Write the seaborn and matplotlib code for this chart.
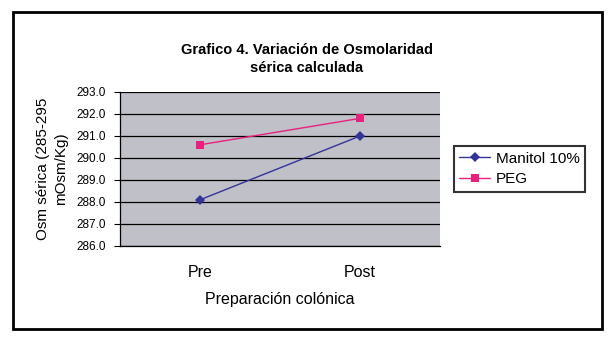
import matplotlib
matplotlib.use("Agg")
import matplotlib.pyplot as plt
import seaborn as sns
import pandas as pd
from matplotlib.patches import Rectangle
from matplotlib.lines import Line2D

categories = ["Pre", "Post"]
manitol = [288.1, 291.0]
peg = [290.6, 291.8]
series_names = ["Manitol 10%", "PEG"]
yticks = [286.0, 287.0, 288.0, 289.0, 290.0, 291.0, 292.0, 293.0]

sns.set_style("white")
plt.rcParams["font.family"] = ["Liberation Sans", "DejaVu Sans"]
plt.rcParams["text.color"] = "black"
plt.rcParams["axes.labelcolor"] = "black"
plt.rcParams["xtick.color"] = "black"
plt.rcParams["ytick.color"] = "black"

df = pd.DataFrame({
    "Momento": categories * 2,
    "Osm": manitol + peg,
    "Serie": [series_names[0]] * 2 + [series_names[1]] * 2,
})

fig = plt.figure(figsize=(6.09, 3.40), dpi=100)
ax = fig.add_axes([120 / 609, 1 - 246 / 340, 320 / 609, 154 / 340])
ax.set_facecolor("#C0C0C8")

colors = {"Manitol 10%": "#333399", "PEG": "#E8217F"}
markers = {"Manitol 10%": "D", "PEG": "s"}
sns.lineplot(data=df, x="Momento", y="Osm", hue="Serie", style="Serie",
             palette=colors, markers=markers, dashes=False, markersize=5.5,
             linewidth=1.0, markeredgewidth=0, ax=ax, legend=False, zorder=3)

ax.set_xlim(-0.5, 1.5)
ax.set_ylim(286.0, 293.0)
ax.set_yticks(yticks)
ax.set_yticklabels([f"{v:.1f}" for v in yticks], fontsize=8.5)
ax.yaxis.grid(True, color="black", linewidth=0.9)
ax.set_axisbelow(True)
ax.set_xticks([0, 1])
ax.set_xticklabels(categories, fontsize=11.5)
ax.set_xticks([-0.5, 0.5, 1.5], minor=True)
ax.tick_params(axis="x", which="major", length=0, pad=14)
ax.tick_params(axis="x", which="minor", length=4, width=0.8, color="black", direction="out")
ax.tick_params(axis="y", which="major", length=4, width=0.8, color="black", direction="out", left=True, pad=6)
for s in ["top", "right"]:
    ax.spines[s].set_visible(False)
for s in ["left", "bottom"]:
    ax.spines[s].set_color("black")
    ax.spines[s].set_linewidth(0.9)

ax.set_xlabel("Preparación colónica", fontsize=11.5, labelpad=8)
ax.set_ylabel("Osm sérica (285-295\nmOsm/Kg)", fontsize=11, labelpad=6, linespacing=1.35)

fig.text(307 / 609, 1 - 59 / 340, "Grafico 4. Variación de Osmolaridad\nsérica calculada",
         ha="center", va="center", fontsize=10.5, fontweight="bold", linespacing=1.45)

handles = [Line2D([0], [0], color=colors[n], marker=markers[n], markersize=5.5,
                  markeredgewidth=0, linewidth=1.0) for n in series_names]
leg = fig.legend(handles, series_names, loc="center",
                 bbox_to_anchor=(519.5 / 609, 1 - 169 / 340), fontsize=11,
                 frameon=True, fancybox=False, edgecolor="black", borderpad=0.35,
                 handlelength=2.0, handletextpad=0.4, labelspacing=0.45, borderaxespad=0)
leg.get_frame().set_linewidth(1.5)

fig.patches.append(Rectangle((13 / 609, 1 - 329 / 340), 589 / 609, 317 / 340,
                             transform=fig.transFigure, fill=False,
                             edgecolor="black", linewidth=2))

fig.savefig("out.png", dpi=100)
